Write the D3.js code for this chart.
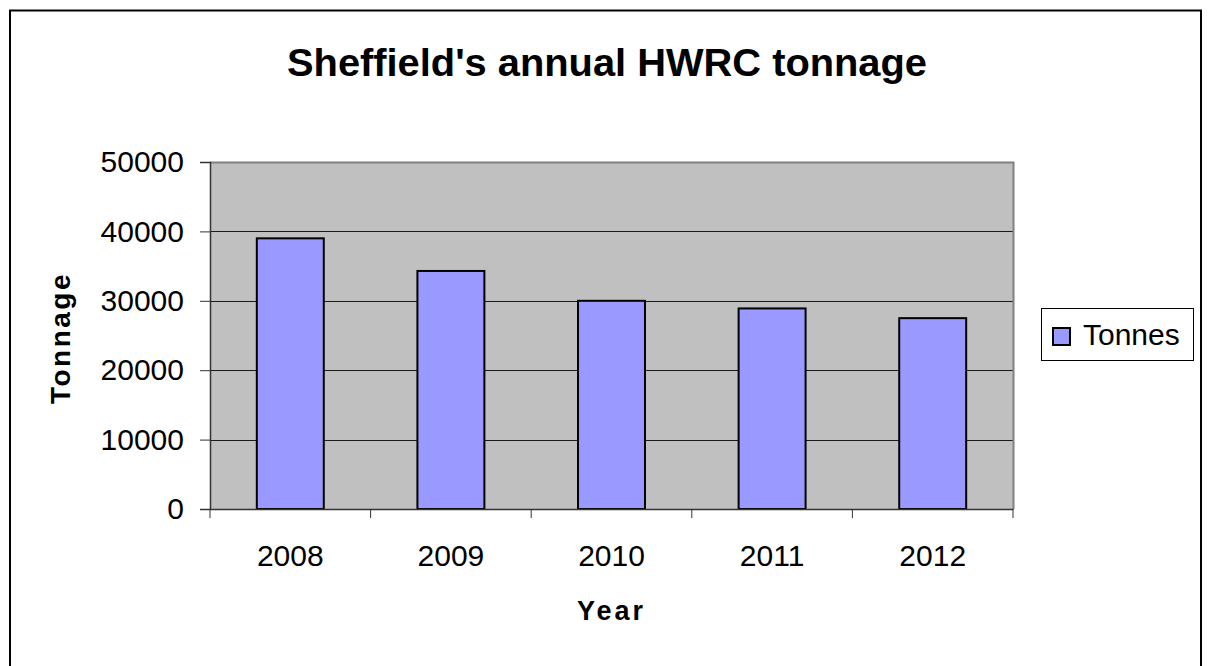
<!DOCTYPE html>
<html>
<head>
<meta charset="utf-8">
<script src="https://cdn.jsdelivr.net/npm/d3@7"></script>
<style>
  body { margin: 0; background: #fff; }
  text { font-family: "Liberation Sans", Arial, sans-serif; }
</style>
</head>
<body>
<div id="chart"></div>
<script>
var years = ["2008", "2009", "2010", "2011", "2012"];
var tonnes = [39000, 34300, 30000, 28900, 27500];
var yTicks = [0, 10000, 20000, 30000, 40000, 50000];
var seriesName = "Tonnes";
var title = "Sheffield's annual HWRC tonnage";

var W = 1209, H = 666;
var plot = { left: 210, top: 162, right: 1013, bottom: 509 };

var svg = d3.select("#chart").append("svg")
    .attr("width", W).attr("height", H);

// outer chart border
svg.append("rect")
    .attr("x", 10).attr("y", 10.5)
    .attr("width", 1191).attr("height", 680)
    .attr("fill", "#fff").attr("stroke", "#000").attr("stroke-width", 2);

var x = d3.scaleBand().domain(years).range([plot.left, plot.right]).padding(0);
var y = d3.scaleLinear().domain([0, 50000]).range([plot.bottom, plot.top]);

// plot background
svg.append("rect")
    .attr("x", plot.left).attr("y", plot.top)
    .attr("width", plot.right - plot.left).attr("height", plot.bottom - plot.top)
    .attr("fill", "#c0c0c0");

// gridlines
svg.append("g").selectAll("line")
    .data(yTicks.filter(function (d) { return d > 0 && d < 50000; }))
    .join("line")
    .attr("x1", plot.left).attr("x2", plot.right)
    .attr("y1", function (d) { return Math.round(y(d)) + 0.5; })
    .attr("y2", function (d) { return Math.round(y(d)) + 0.5; })
    .attr("stroke", "#1a1a1a").attr("stroke-width", 1.2);

// plot border top/right (grey)
svg.append("path")
    .attr("d", "M" + plot.left + "," + (plot.top + 0.5) + "H" + (plot.right + 0.5) + "V" + plot.bottom)
    .attr("fill", "none").attr("stroke", "#808080").attr("stroke-width", 2);

// bars
var barW = x.bandwidth() * 0.417;
svg.append("g").selectAll("rect")
    .data(tonnes)
    .join("rect")
    .attr("x", function (d, i) { return x(years[i]) + (x.bandwidth() - barW) / 2; })
    .attr("y", function (d) { return y(d); })
    .attr("width", barW)
    .attr("height", function (d) { return y(0) - y(d); })
    .attr("fill", "#9999ff")
    .attr("stroke", "#000").attr("stroke-width", 2);

// y axis
var yAxis = d3.axisLeft(y).tickValues(yTicks).tickSize(10).tickPadding(16)
    .tickFormat(d3.format("d"));
var gy = svg.append("g").attr("transform", "translate(" + plot.left + ",0)").call(yAxis);
gy.select(".domain").attr("stroke", "#333").attr("stroke-width", 1.5);
gy.selectAll(".tick line").attr("stroke", "#333");
gy.selectAll("text").attr("font-size", 30).attr("fill", "#000")
    .style("font-family", "'Liberation Sans', Arial, sans-serif");

// x axis: ticks on band boundaries
var xAxis = d3.axisBottom(x).tickSize(0).tickPadding(36);
var gx = svg.append("g").attr("transform", "translate(0," + plot.bottom + ")").call(xAxis);
gx.select(".domain").attr("stroke", "#333").attr("stroke-width", 1.5);
gx.selectAll("text").attr("font-size", 30).attr("fill", "#000")
    .style("font-family", "'Liberation Sans', Arial, sans-serif");
gx.selectAll(".bound")
    .data(years.concat(["end"]))
    .join("line")
    .attr("class", "bound")
    .attr("x1", function (d, i) { return i < years.length ? x(d) : plot.right; })
    .attr("x2", function (d, i) { return i < years.length ? x(d) : plot.right; })
    .attr("y1", 0).attr("y2", 9)
    .attr("stroke", "#333");

// title
svg.append("text")
    .attr("x", 607).attr("y", 76)
    .attr("text-anchor", "middle")
    .attr("font-size", 39).attr("font-weight", "bold")
    .attr("textLength", 640).attr("lengthAdjust", "spacingAndGlyphs")
    .text(title);

// axis titles
svg.append("text")
    .attr("x", 611.5).attr("y", 620)
    .attr("text-anchor", "middle")
    .attr("font-size", 27).attr("font-weight", "bold")
    .attr("letter-spacing", 3)
    .text("Year");

svg.append("text")
    .attr("transform", "translate(70,338) rotate(-90)")
    .attr("text-anchor", "middle")
    .attr("font-size", 28).attr("font-weight", "bold")
    .attr("letter-spacing", 2.5)
    .text("Tonnage");

// legend
var lg = svg.append("g").attr("transform", "translate(1041,308)");
lg.append("rect")
    .attr("x", 0.5).attr("y", 0.5).attr("width", 152).attr("height", 52)
    .attr("fill", "#fff").attr("stroke", "#000").attr("stroke-width", 1);
lg.append("rect")
    .attr("x", 12).attr("y", 20).attr("width", 17).attr("height", 17)
    .attr("fill", "#9999ff").attr("stroke", "#000").attr("stroke-width", 2);
lg.append("text")
    .attr("x", 42).attr("y", 37)
    .attr("font-size", 30)
    .text(seriesName);
</script>
</body>
</html>
